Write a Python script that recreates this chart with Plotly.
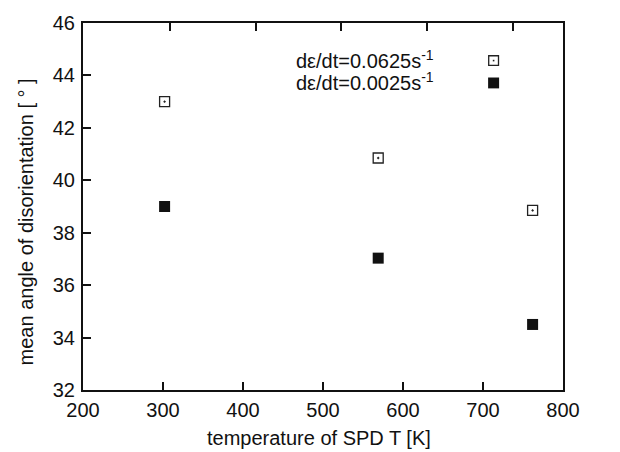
import plotly.graph_objects as go

# Data
temperature_K = [302, 569, 762]
angle_fast = [43.0, 40.85, 38.85]    # dε/dt = 0.0625 s^-1 (open squares)
angle_slow = [39.0, 37.03, 34.5]     # dε/dt = 0.0025 s^-1 (filled squares)

x_ticks = [200, 300, 400, 500, 600, 700, 800]
y_ticks = [32, 34, 36, 38, 40, 42, 44, 46]
top_ticks = [1, 2, 3, 4, 5]

legend_labels = ["dε/dt=0.0625s<sup>-1</sup>", "dε/dt=0.0025s<sup>-1</sup>"]

FONT = "Liberation Sans, Arial, Helvetica, sans-serif"
FS = 20

fig = go.Figure()
fig.add_trace(go.Scatter(
    x=temperature_K, y=angle_fast, mode="markers",
    marker=dict(symbol="square-open-dot", size=10, color="#222222",
                line=dict(width=1.3, color="#222222")),
    showlegend=False, cliponaxis=False))
fig.add_trace(go.Scatter(
    x=temperature_K, y=angle_slow, mode="markers",
    marker=dict(symbol="square", size=11, color="#111111", line=dict(width=0)),
    showlegend=False, cliponaxis=False))
# invisible trace so the top axis is drawn
fig.add_trace(go.Scatter(x=[top_ticks[0]], y=[y_ticks[0]], xaxis="x2", mode="markers",
                         marker=dict(opacity=0), showlegend=False, hoverinfo="skip"))

W, H = 620, 452
L, R, T, B = 82.7, 57.3, 18.7, 62.3
pw, ph = W - L - R, H - T - B

def px_x(px):
    return (px - L) / pw

def px_y(py):
    return (H - B - py) / ph

fig.update_layout(
    width=W, height=H,
    margin=dict(l=L, r=R, t=T, b=B, pad=0),
    paper_bgcolor="white", plot_bgcolor="white",
    font=dict(family=FONT, size=FS, color="#111111"),
    xaxis=dict(range=[200, 800], tickvals=x_ticks, ticks="inside", ticklen=8,
               tickwidth=1.5, tickcolor="#111111", showline=True, linewidth=2,
               linecolor="#111111", mirror=False, showgrid=False, zeroline=False,
               tickfont=dict(size=FS), ticklabelstandoff=1),
    xaxis2=dict(range=[-0.02, 5.589], overlaying="x", side="top", anchor="y",
                tickvals=top_ticks, showticklabels=False, ticks="inside", ticklen=8,
                tickwidth=1.5, tickcolor="#111111", showline=True, linewidth=2,
                linecolor="#111111", showgrid=False, zeroline=False),
    yaxis=dict(range=[32, 46], tickvals=y_ticks, ticks="inside", ticklen=8,
               tickwidth=1.5, tickcolor="#111111", showline=True, linewidth=2,
               linecolor="#111111", mirror=True, showgrid=False, zeroline=False,
               tickfont=dict(size=FS), ticklabelstandoff=2),
)

annotations = [
    dict(text="temperature of SPD T [K]", xref="paper", yref="paper",
         x=px_x(318.3), y=px_y(438), xanchor="center", yanchor="middle",
         showarrow=False, font=dict(size=FS)),
    dict(text="mean angle of disorientation [ ° ]", xref="paper", yref="paper",
         x=px_x(26), y=px_y(220), xanchor="center", yanchor="middle",
         textangle=-90, showarrow=False, font=dict(size=FS)),
]
legend_rows_y = [56.7, 79.3]
for lab, yy in zip(legend_labels, legend_rows_y):
    annotations.append(dict(text=lab, xref="paper", yref="paper",
                            x=px_x(294), y=px_y(yy - 1), xanchor="left", yanchor="middle",
                            showarrow=False, font=dict(size=FS)))
fig.update_layout(annotations=annotations)

# legend sample symbols
lx = 493.3
s = 5.5
shapes = [
    dict(type="rect", xref="paper", yref="paper",
         x0=px_x(lx - s + 0.6), x1=px_x(lx + s - 0.6),
         y0=px_y(legend_rows_y[0] + s - 0.6), y1=px_y(legend_rows_y[0] - s + 0.6),
         line=dict(color="#222222", width=1.3), fillcolor="white"),
    dict(type="rect", xref="paper", yref="paper",
         x0=px_x(lx - 0.8), x1=px_x(lx + 0.8),
         y0=px_y(legend_rows_y[0] + 0.8), y1=px_y(legend_rows_y[0] - 0.8),
         line=dict(width=0), fillcolor="#222222"),
    dict(type="rect", xref="paper", yref="paper",
         x0=px_x(lx - s), x1=px_x(lx + s),
         y0=px_y(legend_rows_y[1] + s), y1=px_y(legend_rows_y[1] - s),
         line=dict(width=0), fillcolor="#111111"),
]
fig.update_layout(shapes=shapes)

fig.write_html("out.html")
